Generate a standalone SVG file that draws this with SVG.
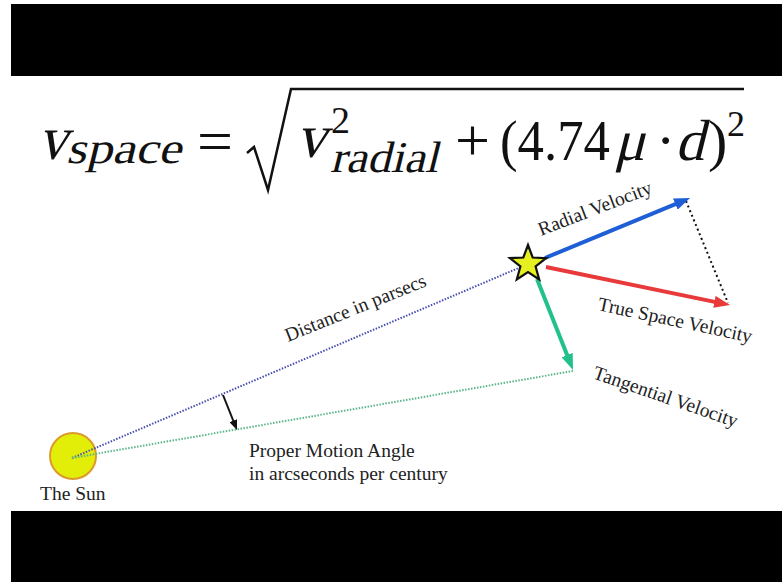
<svg xmlns="http://www.w3.org/2000/svg" width="783" height="583" viewBox="0 0 783 583">
<style>
.eq{font-family:"Liberation Serif","Times New Roman",serif;fill:#111}
.lbl{font-family:"Liberation Serif","Times New Roman",serif;font-size:19.5px;fill:#222}
.dotb{stroke:#4a4fb0;stroke-width:2;stroke-dasharray:1.5 1.5;fill:none}
.dotg{stroke:#5ab58a;stroke-width:2;stroke-dasharray:1.5 1.5;fill:none}
.dotk{stroke:#111;stroke-width:2;stroke-dasharray:2 3;fill:none}
</style>
<defs>
<marker id="hb" viewBox="0 0 16 12" markerWidth="16" markerHeight="12" refX="4" refY="6" orient="auto" markerUnits="userSpaceOnUse"><path d="M0,0 L16,6 L0,12 z" fill="#1f5fd6"/></marker>
<marker id="hr" viewBox="0 0 16 12" markerWidth="16" markerHeight="12" refX="4" refY="6" orient="auto" markerUnits="userSpaceOnUse"><path d="M0,0 L16,6 L0,12 z" fill="#e8393b"/></marker>
<marker id="hg" viewBox="0 0 16 12" markerWidth="16" markerHeight="12" refX="4" refY="6" orient="auto" markerUnits="userSpaceOnUse"><path d="M0,0 L16,6 L0,12 z" fill="#22c08c"/></marker>
<marker id="hk" viewBox="0 0 10 8" markerWidth="10" markerHeight="8" refX="3" refY="4" orient="auto" markerUnits="userSpaceOnUse"><path d="M0,0 L10,4 L0,8 z" fill="#111"/></marker>
</defs>
<rect width="783" height="583" fill="#fff"/>
<rect x="11" y="4" width="771" height="72" fill="#000"/>
<rect x="11" y="511" width="771" height="71" fill="#000"/>

<g id="equation" font-family="Liberation Serif, Times New Roman, serif" fill="#111">
<text class="eq" transform="translate(38,159) skewX(-14)" font-size="62" textLength="29" lengthAdjust="spacingAndGlyphs">v</text>
<text class="eq" transform="translate(66,163) skewX(-14)" font-size="44" textLength="115" lengthAdjust="spacingAndGlyphs">space</text>
<text class="eq" x="197" y="161" font-size="60" textLength="36" lengthAdjust="spacingAndGlyphs">=</text>
<path d="M247,153 L254,147 L268,190 L291,89 L744,89" fill="none" stroke="#111" stroke-width="2.5" stroke-linejoin="miter"/>
<text class="eq" transform="translate(296,157) skewX(-14)" font-size="62" textLength="30" lengthAdjust="spacingAndGlyphs">v</text>
<text class="eq" x="331" y="133" font-size="38">2</text>
<text class="eq" transform="translate(330,172) skewX(-14)" font-size="44" textLength="108" lengthAdjust="spacingAndGlyphs">radial</text>
<text class="eq" x="455" y="160" font-size="60" textLength="35" lengthAdjust="spacingAndGlyphs">+</text>
<text class="eq" x="500" y="160" font-size="58" textLength="110" lengthAdjust="spacingAndGlyphs">(4.74</text>
<text class="eq" transform="translate(614,160) skewX(-14)" font-size="58">μ</text>
<text class="eq" x="656" y="160" font-size="58">·</text>
<text class="eq" transform="translate(675,160) skewX(-14)" font-size="58">d</text>
<text class="eq" x="708" y="160" font-size="58">)</text>
<text class="eq" x="727" y="136" font-size="36">2</text>
</g>

<g id="sun">
<circle cx="73" cy="456" r="23" fill="#e2ee08" stroke="#dc9a2c" stroke-width="2"/>
<text class="lbl" x="40" y="500" font-size="20">The Sun</text>
</g>

<g id="connectors">
<line class="dotb" x1="72" y1="458" x2="528" y2="264"/>
<line class="dotg" x1="72" y1="458" x2="573" y2="371"/>
<line class="dotk" x1="686" y1="201" x2="728" y2="303"/>
<line x1="545" y1="258" x2="679" y2="202.6" stroke="#1f5fd6" stroke-width="4" marker-end="url(#hb)"/>
<line x1="546" y1="267" x2="718.3" y2="302.6" stroke="#e8393b" stroke-width="4" marker-end="url(#hr)"/>
<line x1="537" y1="279" x2="568.6" y2="358.8" stroke="#22c08c" stroke-width="4" marker-end="url(#hg)"/>
<line x1="223" y1="395" x2="234.4" y2="423.5" stroke="#111" stroke-width="2" marker-end="url(#hk)"/>
</g>

<g id="star">
<path d="M528,245 L532.7,257.5 L546.1,258.1 L535.6,266.5 L539.2,279.4 L528,272 L516.8,279.4 L520.4,266.5 L509.9,258.1 L523.3,257.5 Z" fill="#e6f020" stroke="#111" stroke-width="2.2" stroke-linejoin="miter"/>
</g>

<g id="labels">
<text class="lbl" transform="translate(541,236) rotate(-21)">Radial Velocity</text>
<text class="lbl" transform="translate(597,310) rotate(12)">True Space Velocity</text>
<text class="lbl" transform="translate(592,378) rotate(19)">Tangential Velocity</text>
<text class="lbl" transform="translate(288,342) rotate(-22)">Distance in parsecs</text>
<text class="lbl" x="249" y="457" font-size="20">Proper Motion Angle</text>
<text class="lbl" x="249" y="480" font-size="20">in arcseconds per century</text>
</g>
</svg>
